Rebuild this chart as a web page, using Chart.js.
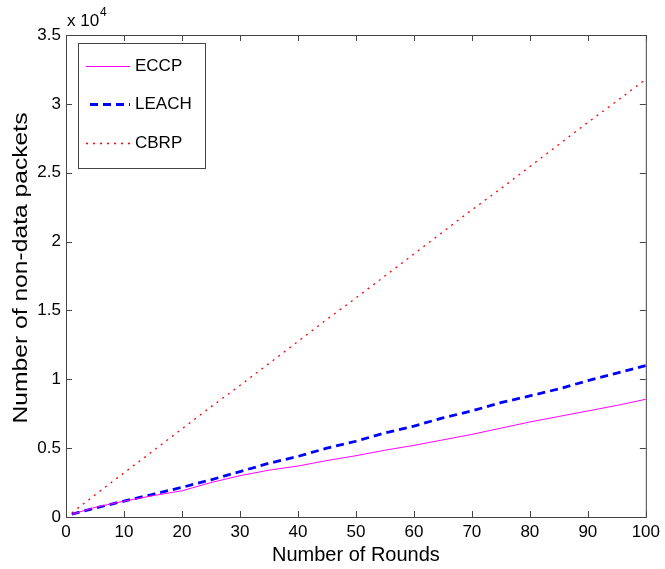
<!DOCTYPE html>
<html>
<head>
<meta charset="utf-8">
<script src="https://cdn.jsdelivr.net/npm/chart.js@4.4.0/dist/chart.umd.min.js"></script>
<style>
  html, body { margin: 0; padding: 0; background: #fff; }
  #wrap { width: 665px; height: 569px; }
</style>
</head>
<body>
<div id="wrap"><canvas id="chart" width="665" height="569"></canvas></div>
<script>
// Rounds sampled along the x axis
const rounds = [1, 5, 10, 15, 20, 25, 30, 35, 40, 45, 50, 55, 60, 65, 70, 75, 80, 85, 90, 95, 100];

// Non-data packets (raw counts, axis shows x 10^4)
const eccp  = [200, 700, 1150, 1550, 1900, 2500, 3000, 3400, 3700, 4100, 4450, 4850, 5200, 5600, 6000, 6450, 6900, 7300, 7700, 8100, 8550];
const leach = [200, 650, 1150, 1650, 2150, 2700, 3300, 3900, 4400, 5000, 5500, 6100, 6600, 7200, 7700, 8300, 8800, 9300, 9900, 10450, 11000];
const cbrp  = [300, 1600, 3200, 4800, 6400, 8000, 9550, 11150, 12750, 14350, 15900, 17500, 19100, 20700, 22300, 23850, 25450, 27050, 28650, 30200, 31800];

const seriesNames = ["ECCP", "LEACH", "CBRP"];
const yTicks = [0, 5000, 10000, 15000, 20000, 25000, 30000, 35000];
const xTicks = [0, 10, 20, 30, 40, 50, 60, 70, 80, 90, 100];
const yTitle = "Number of non-data packets";
const xTitle = "Number of Rounds";

const FONT = "Liberation Sans, Arial, sans-serif";

function pts(ys) {
  return rounds.map((r, i) => ({ x: r, y: ys[i] }));
}

// MATLAB style box, inward ticks, legend, y title and exponent label
const matlabFrame = {
  id: "matlabFrame",
  afterDraw(chart) {
    const ctx = chart.ctx;
    const a = chart.chartArea;
    const xs = chart.scales.x, ys = chart.scales.y;
    ctx.save();
    ctx.strokeStyle = "#444";
    ctx.lineWidth = 1;
    ctx.strokeRect(a.left + 0.5, a.top + 0.5, a.right - a.left, a.bottom - a.top);

    ctx.beginPath();
    xTicks.forEach(v => {
      const px = Math.round(xs.getPixelForValue(v)) + 0.5;
      ctx.moveTo(px, a.bottom); ctx.lineTo(px, a.bottom - 6);
      ctx.moveTo(px, a.top); ctx.lineTo(px, a.top + 6);
    });
    yTicks.forEach(v => {
      const py = Math.round(ys.getPixelForValue(v)) + 0.5;
      ctx.moveTo(a.left, py); ctx.lineTo(a.left + 6, py);
      ctx.moveTo(a.right, py); ctx.lineTo(a.right - 6, py);
    });
    ctx.stroke();

    // exponent label
    ctx.fillStyle = "#000";
    ctx.textBaseline = "alphabetic";
    ctx.textAlign = "left";
    ctx.font = "17px " + FONT;
    ctx.fillText("x 10", 67, 26);
    ctx.font = "12px " + FONT;
    ctx.fillText("4", 100, 16);

    // y axis title (stretched along its length like the reference)
    ctx.save();
    ctx.font = "21px " + FONT;
    ctx.textAlign = "center";
    ctx.textBaseline = "middle";
    const tw = ctx.measureText(yTitle).width;
    ctx.translate(21, 268);
    ctx.rotate(-Math.PI / 2);
    ctx.scale(311 / tw, 1);
    ctx.fillText(yTitle, 0, 0);
    ctx.restore();

    // legend
    const lx = 78, ly = 43, lw = 127, lh = 125;
    ctx.fillStyle = "#fff";
    ctx.fillRect(lx, ly, lw, lh);
    ctx.strokeStyle = "#444";
    ctx.lineWidth = 1;
    ctx.strokeRect(lx + 0.5, ly + 0.5, lw, lh);
    const rowY = [66, 104, 143];
    chart.data.datasets.forEach((ds, i) => {
      const y = rowY[i] + 0.5;
      ctx.beginPath();
      ctx.strokeStyle = ds.borderColor;
      ctx.lineWidth = ds.borderWidth;
      ctx.setLineDash(ds.borderDash || []);
      ctx.moveTo(i === 1 ? 90 : 86, y);
      ctx.lineTo(130, y);
      ctx.stroke();
      ctx.setLineDash([]);
      ctx.fillStyle = "#000";
      ctx.font = "17px " + FONT;
      ctx.textBaseline = "middle";
      ctx.fillText(ds.label, 135, rowY[i]);
    });
    ctx.restore();
  }
};

new Chart(document.getElementById("chart"), {
  type: "line",
  data: {
    datasets: [
      { label: seriesNames[0], data: pts(eccp), borderColor: "#ff00ff", borderWidth: 1, pointRadius: 0, tension: 0 },
      { label: seriesNames[1], data: pts(leach), borderColor: "#0000ff", borderWidth: 2.8, borderDash: [8, 5], pointRadius: 0, tension: 0 },
      { label: seriesNames[2], data: pts(cbrp), borderColor: "#ff0000", borderWidth: 1.3, borderDash: [2, 5], pointRadius: 0, tension: 0 }
    ]
  },
  options: {
    responsive: false,
    animation: false,
    layout: { padding: { top: 35, right: 14, left: 0, bottom: 0 } },
    plugins: { legend: { display: false }, tooltip: { enabled: false } },
    scales: {
      x: {
        type: "linear", min: 0, max: 100,
        afterBuildTicks: s => { s.ticks = xTicks.map(v => ({ value: v })); },
        afterFit: s => { s.height = 52; },
        grid: { display: false, drawTicks: false },
        border: { display: false },
        ticks: { color: "#000", font: { family: FONT, size: 17 }, padding: 5, maxRotation: 0 },
        title: { display: true, text: xTitle, color: "#000", font: { family: FONT, size: 20 }, padding: { top: 0, bottom: 2 } }
      },
      y: {
        type: "linear", min: 0, max: 35000,
        afterBuildTicks: s => { s.ticks = yTicks.map(v => ({ value: v })); },
        afterFit: s => { s.width = 66; },
        grid: { display: false, drawTicks: false },
        border: { display: false },
        ticks: { color: "#000", font: { family: FONT, size: 17 }, padding: 5, callback: v => String(v / 10000) },
        title: { display: false }
      }
    }
  },
  plugins: [matlabFrame]
});
</script>
</body>
</html>
